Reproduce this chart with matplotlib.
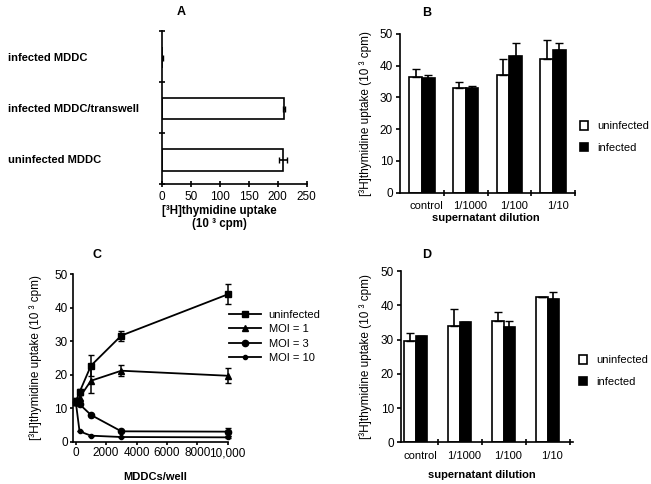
import numpy as np
import matplotlib
matplotlib.use("Agg")
from matplotlib import pyplot as plt
from matplotlib import transforms
from matplotlib.patches import Patch
from matplotlib.lines import Line2D

plt.rcParams["font.family"] = ["Liberation Sans", "DejaVu Sans"]
plt.rcParams["font.size"] = 8
plt.rcParams["axes.linewidth"] = 1.2
plt.rcParams["xtick.major.width"] = 1.2
plt.rcParams["ytick.major.width"] = 1.2
plt.rcParams["xtick.minor.width"] = 1.2

# panel A
a_labels = ["uninfected MDDC", "infected MDDC/transwell", "infected MDDC"]
a_values = [209, 211, 0.5]
a_err = [7, 2, 1]

# panels B and D
dilutions = ["control", "1/1000", "1/100", "1/10"]
b_uninf = [36.3, 32.9, 37.2, 42.1]
b_uninf_err = [2.7, 2.1, 4.8, 6.0]
b_inf = [36.2, 33.0, 43.2, 45.1]
b_inf_err = [0.8, 0.7, 4.0, 2.0]
d_uninf = [29.5, 33.9, 35.5, 42.3]
d_uninf_err = [2.5, 5.0, 2.4, 0]
d_inf = [30.9, 35.1, 33.6, 41.9]
d_inf_err = [0, 0, 1.7, 2.0]

# panel C
cells = [0, 250, 1000, 3000, 10000]
c_uninf = [12, 14.8, 22.7, 31.7, 44.0]
c_uninf_err = [1, 0.8, 3.2, 1.5, 3.0]
c_moi1 = [12, 13.2, 18.2, 21.2, 19.7]
c_moi1_err = [1, 0.6, 3.8, 1.6, 2.2]
c_moi3 = [12, 11.2, 8.0, 3.1, 3.0]
c_moi3_err = [0, 0, 0, 0, 1.2]
c_moi10 = [12, 3.1, 1.8, 1.4, 1.3]
c_moi10_err = [0, 0, 0, 0, 0.3]

ylab = "[³H]thymidine uptake (10 ³ cpm)"

fig = plt.figure(figsize=(6.51, 4.84), dpi=100)
W, H = 651.0, 484.0


def ax_px(l, r, t, b):
    return fig.add_axes([l / W, 1 - b / H, (r - l) / W, (b - t) / H])


def clean(ax):
    ax.spines["top"].set_visible(False)
    ax.spines["right"].set_visible(False)


# ---- A ----
axA = ax_px(161.7, 306.7, 31, 184.3)
clean(axA)
ya = np.arange(len(a_labels)) + 0.48
axA.barh(ya, a_values, height=0.42, color="white", edgecolor="black", linewidth=1.2)
axA.errorbar(a_values, ya, xerr=a_err, fmt="none", ecolor="black", elinewidth=1.2, capsize=2.5)
axA.set_xlim(0, 250)
axA.set_ylim(0, 3)
axA.set_xticks([0, 50, 100, 150, 200, 250])
axA.set_yticks([0, 1, 2, 3])
axA.set_yticklabels([])
axA.tick_params(axis="both", direction="inout", length=5)
axA.tick_params(axis="x", labelsize=8.5, pad=2)
tr = transforms.blended_transform_factory(fig.transFigure, axA.transData)
for y, lab in zip(ya, a_labels):
    axA.text(8 / W, y, lab, transform=tr, ha="left", va="center", fontweight="bold", fontsize=8)
fig.text(219 / W, 1 - 205 / H, "[³H]thymidine uptake\n(10 ³ cpm)", ha="center", va="top",
         fontweight="bold", fontsize=8.3, linespacing=1.15)
fig.text(181 / W, 1 - 12 / H, "A", ha="center", va="center", fontweight="bold", fontsize=9)


def bar_panel(ax, uninf, uerr, inf, ierr, xlim, width):
    clean(ax)
    x = np.arange(len(dilutions))
    ax.bar(x - width / 2, uninf, width, color="white", edgecolor="black", linewidth=1.2)
    ax.bar(x + width / 2, inf, width, color="black", edgecolor="black", linewidth=1.2)
    ax.errorbar(x - width / 2, uninf, yerr=[np.zeros(len(uerr)), uerr], fmt="none",
                ecolor="black", elinewidth=1.2, capsize=3)
    ax.errorbar(x + width / 2, inf, yerr=[np.zeros(len(ierr)), ierr], fmt="none",
                ecolor="black", elinewidth=1.2, capsize=3)
    ax.set_xlim(*xlim)
    ax.set_ylim(0, 50)
    ax.set_yticks([0, 10, 20, 30, 40, 50])
    ax.set_xticks(x + 0.1)
    ax.set_xticklabels(dilutions)
    ax.set_xticks([0.5, 1.5, 2.5, 3.5], minor=True)
    ax.tick_params(axis="x", which="major", length=0, pad=6, labelsize=8)
    ax.tick_params(axis="x", which="minor", direction="inout", length=5)
    ax.tick_params(axis="y", direction="out", length=3, labelsize=8.5, pad=2)
    ax.set_ylabel(ylab, fontsize=8.5)
    ax.set_xlabel("supernatant dilution", fontweight="bold", fontsize=8)
    handles = [Patch(facecolor="white", edgecolor="black", linewidth=1.2),
               Patch(facecolor="black", edgecolor="black", linewidth=1.2)]
    return handles


# ---- B ----
axB = ax_px(400, 575, 34, 192.7)
hB = bar_panel(axB, b_uninf, b_uninf_err, b_inf, b_inf_err, (-0.5, 3.5), 0.29)
axB.yaxis.set_label_coords(-0.16, 0.5)
axB.xaxis.set_label_coords(0.49, -0.13)
axB.legend(hB, ["uninfected", "infected"], loc="center left", frameon=False,
           bbox_to_anchor=(574 / W, 1 - 137 / H), bbox_transform=fig.transFigure,
           borderpad=0, handlelength=0.8, handleheight=0.8, handletextpad=0.8,
           labelspacing=1.05, fontsize=8)
fig.text(427 / W, 1 - 13 / H, "B", ha="center", va="center", fontweight="bold", fontsize=9)

# ---- D ----
axD = ax_px(401, 572.7, 271, 442.3)
hD = bar_panel(axD, d_uninf, d_uninf_err, d_inf, d_inf_err, (-0.33, 3.57), 0.265)
axD.yaxis.set_label_coords(-0.17, 0.5)
axD.xaxis.set_label_coords(0.47, -0.16)
axD.legend(hD, ["uninfected", "infected"], loc="center left", frameon=False,
           bbox_to_anchor=(573 / W, 1 - 371 / H), bbox_transform=fig.transFigure,
           borderpad=0, handlelength=0.8, handleheight=0.8, handletextpad=0.8,
           labelspacing=1.05, fontsize=8)
fig.text(427 / W, 1 - 255 / H, "D", ha="center", va="center", fontweight="bold", fontsize=9)

# ---- C ----
axC = ax_px(73.3, 228, 274.3, 441.7)
clean(axC)
series = [
    (c_uninf, c_uninf_err, "s", 4, "uninfected"),
    (c_moi1, c_moi1_err, "^", 4.5, "MOI = 1"),
    (c_moi3, c_moi3_err, "o", 4.5, "MOI = 3"),
    (c_moi10, c_moi10_err, "o", 3, "MOI = 10"),
]
handles = []
for vals, errs, m, ms, lab in series:
    axC.errorbar(cells, vals, yerr=errs, color="black", marker=m, markersize=ms,
                 linewidth=1.3, elinewidth=1.1, capsize=2, clip_on=False)
    handles.append(Line2D([], [], color="black", marker=m, markersize=ms, linewidth=1.3))
axC.set_xlim(-160, 10020)
axC.set_ylim(0, 50)
axC.set_xticks([0, 2000, 4000, 6000, 8000, 10000])
axC.set_xticklabels(["0", "2000", "4000", "6000", "8000", "10,000"])
axC.set_yticks([0, 10, 20, 30, 40, 50])
axC.tick_params(axis="both", direction="out", length=2, labelsize=8.5, pad=2)
axC.set_ylabel(ylab, fontsize=8.5)
axC.yaxis.set_label_coords(-0.2, 0.5)
axC.set_xlabel("MDDCs/well", fontweight="bold", fontsize=8)
axC.xaxis.set_label_coords(0.53, -0.18)
axC.legend(handles, [s[4] for s in series], loc="center left", frameon=False,
           bbox_to_anchor=(223 / W, 1 - 336.5 / H), bbox_transform=fig.transFigure,
           borderpad=0, handlelength=2.9, handletextpad=0.7, labelspacing=0.4, fontsize=8)
fig.text(97 / W, 1 - 255 / H, "C", ha="center", va="center", fontweight="bold", fontsize=9)

fig.savefig("out.png", dpi=100)
